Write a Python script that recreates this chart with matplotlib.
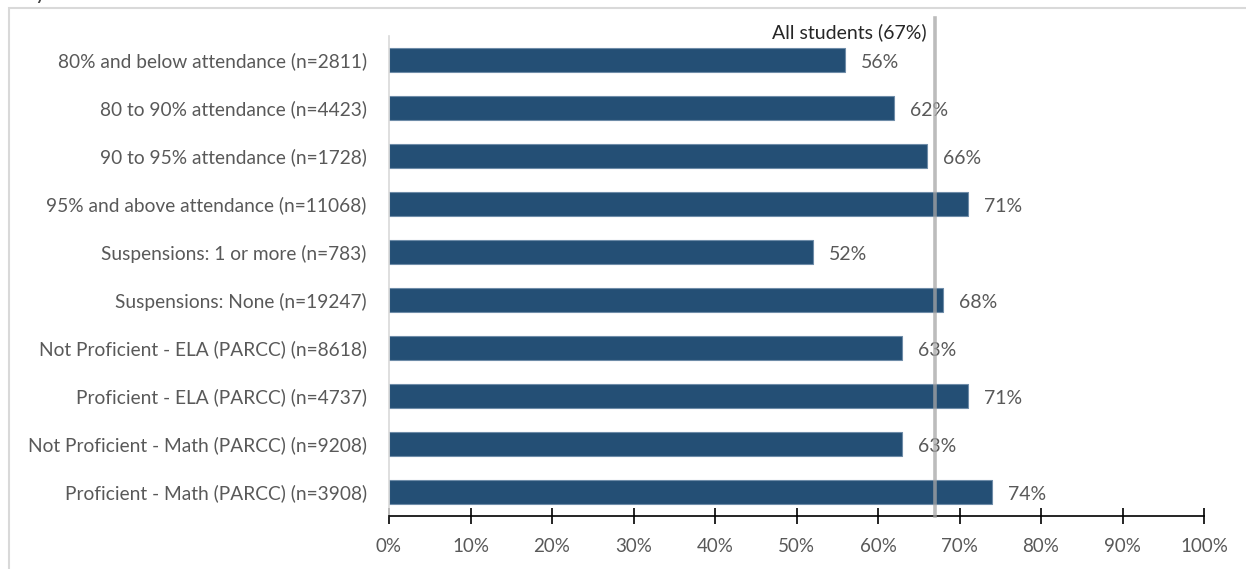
import matplotlib.pyplot as plt
from matplotlib.patches import Rectangle

categories = [
    "80% and below attendance (n=2811)",
    "80 to 90% attendance (n=4423)",
    "90 to 95% attendance (n=1728)",
    "95% and above attendance (n=11068)",
    "Suspensions: 1 or more (n=783)",
    "Suspensions: None (n=19247)",
    "Not Proficient - ELA (PARCC) (n=8618)",
    "Proficient - ELA (PARCC) (n=4737)",
    "Not Proficient - Math (PARCC) (n=9208)",
    "Proficient - Math (PARCC) (n=3908)",
]
values = [56, 62, 66, 71, 52, 68, 63, 71, 63, 74]
all_students = 67
xticks = [0, 10, 20, 30, 40, 50, 60, 70, 80, 90, 100]

W, H = 1246, 569
plt.rcParams['font.family'] = ['Lato', 'DejaVu Sans']
txt = '#595959'
fs = 14

fig = plt.figure(figsize=(W / 100, H / 100), dpi=100)
ax = fig.add_axes([389 / W, 1 - 516 / H, (1204 - 389) / W, 480 / H])

# outer chart frame
fig.patches.append(Rectangle((8.5 / W, -0.1), 1.2, 1 - 7.5 / H + 0.1,
                             transform=fig.transFigure, fill=False,
                             edgecolor='#D9D9D9', linewidth=1.5))
# clipped title tail
fig.text(35 / W, 1 + 1 / H, 'y', fontsize=16, color='#404040', va='baseline')

ypos = list(range(len(categories)))
ax.barh(ypos, values, height=0.52, color='#244F75', edgecolor='#6E8CA8',
        linewidth=0.8, zorder=2)
for y, v in zip(ypos, values):
    ax.annotate(f"{v}%", (v, y), xytext=(11.5, -1.5), textcoords='offset points',
                ha='left', va='center', fontsize=fs, color=txt)

ax.axvline(all_students, ymin=0, ymax=(516 - 18) / 480, color='#A6A6A6',
           linewidth=2.6, alpha=0.75, zorder=3, clip_on=False)
ax.annotate(f"All students ({all_students}%)", (all_students, -0.5),
            xytext=(-6, 2.5), textcoords='offset points', ha='right',
            va='center', fontsize=fs, color='#262626')

ax.set_xlim(0, 100)
ax.set_ylim(9.5, -0.5)
ax.set_xticks(xticks)
ax.set_xticklabels([f"{t}%" for t in xticks], fontsize=13.5, color=txt)
ax.set_yticks(ypos)
ax.set_yticklabels(categories, fontsize=13.8, color=txt)
ax.tick_params(axis='x', direction='inout', length=12, width=1.2,
               color='black', pad=10)
ax.tick_params(axis='y', length=0, pad=16)

for s in ['top', 'right']:
    ax.spines[s].set_visible(False)
ax.spines['left'].set_color('#D9D9D9')
ax.spines['left'].set_linewidth(1.2)
ax.spines['bottom'].set_color('black')
ax.spines['bottom'].set_linewidth(1.2)

fig.savefig('out.png', dpi=100)
